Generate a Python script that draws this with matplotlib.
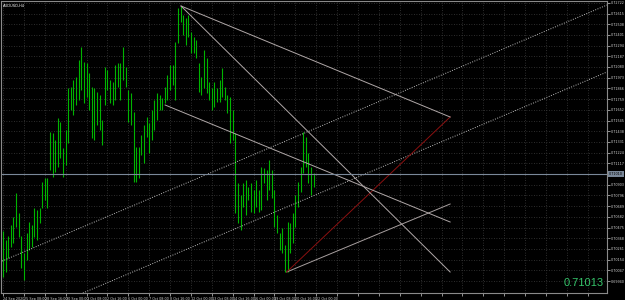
import matplotlib
matplotlib.use("Agg")
import matplotlib.pyplot as plt
import numpy as np

# AUDUSD H4 bars (high / low)
highs = [0.7044, 0.7035, 0.7039, 0.7050, 0.7058, 0.7082, 0.7062, 0.7039, 0.7022, 0.7042,
         0.7053, 0.7050, 0.7067, 0.7065, 0.7067, 0.7093, 0.7097, 0.7097, 0.7143, 0.7142,
         0.7135, 0.7157, 0.7153, 0.7127, 0.7145, 0.7187, 0.7188, 0.7195, 0.7198, 0.7215,
         0.7228, 0.7213, 0.7212, 0.7202, 0.7188, 0.7187, 0.7183, 0.7180, 0.7155, 0.7208,
         0.7205, 0.7195, 0.7193, 0.7210, 0.7212, 0.7212, 0.7228, 0.7208, 0.7185, 0.7182,
         0.7163, 0.7128, 0.7128, 0.7140, 0.7150, 0.7158, 0.7152, 0.7165, 0.7175, 0.7182,
         0.7180, 0.7177, 0.7188, 0.7200, 0.7210, 0.7210, 0.7233, 0.7267, 0.7269, 0.7260,
         0.7257, 0.7260, 0.7243, 0.7238, 0.7235, 0.7212, 0.7198, 0.7225, 0.7217, 0.7193,
         0.7187, 0.7193, 0.7187, 0.7195, 0.7207, 0.7188, 0.7180, 0.7178, 0.7165, 0.7142,
         0.7092, 0.7080, 0.7092, 0.7095, 0.7088, 0.7092, 0.7085, 0.7095, 0.7085, 0.7108,
         0.7107, 0.7105, 0.7115, 0.7105, 0.7085, 0.7060, 0.7042, 0.7047, 0.7030, 0.7053,
         0.7052, 0.7062, 0.7080, 0.7093, 0.7108, 0.7143, 0.7138, 0.7122, 0.7108, 0.7102]
lows = [0.6998, 0.7003, 0.7017, 0.7028, 0.7032, 0.7048, 0.7038, 0.7007, 0.6995, 0.7015,
        0.7025, 0.7028, 0.7038, 0.7035, 0.7052, 0.7067, 0.7075, 0.7067, 0.7105, 0.7098,
        0.7103, 0.7108, 0.7117, 0.7098, 0.7110, 0.7132, 0.7165, 0.7160, 0.7170, 0.7175,
        0.7185, 0.7172, 0.7178, 0.7165, 0.7137, 0.7135, 0.7150, 0.7145, 0.7130, 0.7170,
        0.7185, 0.7172, 0.7170, 0.7175, 0.7188, 0.7175, 0.7195, 0.7188, 0.7153, 0.7150,
        0.7093, 0.7093, 0.7097, 0.7120, 0.7112, 0.7138, 0.7122, 0.7135, 0.7145, 0.7155,
        0.7165, 0.7165, 0.7172, 0.7175, 0.7185, 0.7190, 0.7175, 0.7232, 0.7253, 0.7240,
        0.7230, 0.7238, 0.7222, 0.7222, 0.7217, 0.7183, 0.7180, 0.7187, 0.7182, 0.7175,
        0.7165, 0.7168, 0.7173, 0.7173, 0.7178, 0.7175, 0.7162, 0.7132, 0.7135, 0.7062,
        0.7052, 0.7045, 0.7068, 0.7060, 0.7075, 0.7063, 0.7062, 0.7068, 0.7063, 0.7065,
        0.7092, 0.7075, 0.7085, 0.7077, 0.7048, 0.7042, 0.7025, 0.7022, 0.7003, 0.7003,
        0.7022, 0.7032, 0.7048, 0.7068, 0.7083, 0.7102, 0.7108, 0.7092, 0.7080, 0.7088]

time_labels = ["24 Sep 2020", "25 Sep 08:00", "28 Sep 16:00", "30 Sep 00:00", "1 Oct 08:00",
               "2 Oct 16:00", "6 Oct 00:00", "7 Oct 08:00", "8 Oct 16:00", "12 Oct 00:00",
               "13 Oct 08:00", "14 Oct 16:00", "16 Oct 00:00", "19 Oct 08:00", "20 Oct 16:00",
               "22 Oct 00:00"]
bars_per_label = 8

current_price = 0.7101
price_step = 0.00107

# trend lines: (x0, p0, x1, p1, color, style)
trend_lines = [
    (-1.2, 0.7013, 231.4, 0.7270, '#bdbdbd', 'dotted'),
    (30.6, 0.6982, 231.4, 0.7203, '#bdbdbd', 'dotted'),
    (108.7, 0.7003, 171.3, 0.7071, '#a8a0a0', 'solid'),
    (108.7, 0.7003, 171.3, 0.7158, '#8b1010', 'solid'),
    (68.2, 0.7269, 171.3, 0.7158, '#b0a8a8', 'solid'),
    (68.2, 0.7269, 171.3, 0.7003, '#b0a8a8', 'solid'),
    (62.1, 0.7170, 171.3, 0.7053, '#b0a8a8', 'solid'),
]

fig = plt.figure(figsize=(6.25, 3), dpi=100, facecolor='black')
ax = fig.add_axes([1 / 625, 7 / 300, 606 / 625, 292 / 300])
ax.set_facecolor('black')

idx = np.arange(len(highs))
ax.vlines(idx, lows, highs, color='#00b400', lw=0.8)

for x0, p0, x1, p1, c, ls in trend_lines:
    if ls == 'dotted':
        ax.plot([x0, x1], [p0, p1], color=c, lw=0.7, ls=(0, (1, 1.5)))
    else:
        ax.plot([x0, x1], [p0, p1], color=c, lw=0.7)

ax.axhline(current_price, color='#7a8899', lw=0.8)

ax.set_xlim(-0.77, 231.4)
ax.set_ylim(0.7275 - 0.0293, 0.7274)

yt = [current_price + k * price_step for k in range(-10, 17)]
ax.set_yticks(yt)
ax.set_yticklabels(['' if abs(v - current_price) < 1e-9 else '%.5f' % v for v in yt])
ax.yaxis.tick_right()
xt = np.arange(0, 232, bars_per_label)
ax.set_xticks(xt)
ax.set_xticklabels(time_labels + [''] * (len(xt) - len(time_labels)), ha='left')
ax.tick_params(colors='#cfcfcf', labelsize=2.4, length=2, width=0.5, pad=0.8)
ax.grid(True, color='#3c3c3c', lw=0.6, ls=(0, (1, 2)))

for s in ax.spines.values():
    s.set_color('#8a8a8a')
    s.set_linewidth(0.8)

ax.text(1.003, current_price, '%.5f' % current_price, transform=ax.get_yaxis_transform(),
        fontsize=2.4, color='black', va='center', ha='left',
        bbox=dict(boxstyle='square,pad=0.25', fc='#7a8899', ec='none'))
ax.text(0.004, 0.99, 'AUDUSD,H4', transform=ax.transAxes, fontsize=2.6, color='white', va='top')
fig.text(604 / 625, 17 / 300, '0.71013', ha='right', va='center', fontsize=8,
         color='#35c46a', family='Liberation Sans')

fig.savefig('out.png', dpi=100, facecolor='black')
